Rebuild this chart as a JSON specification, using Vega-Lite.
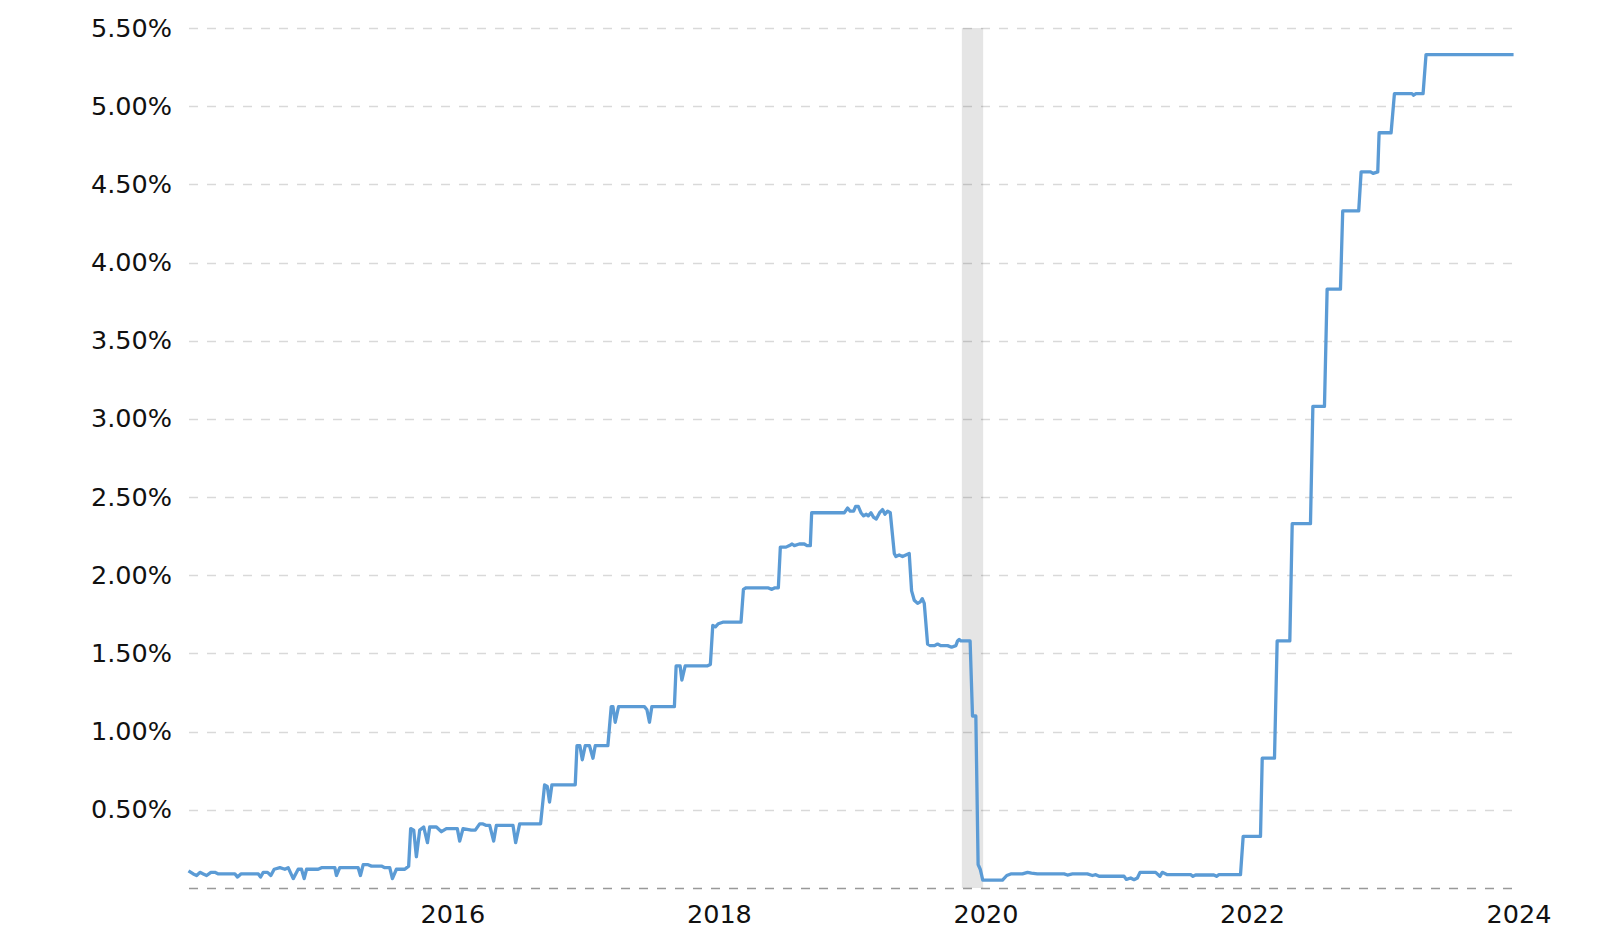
{
  "$schema": "https://vega.github.io/schema/vega-lite/v6.json",
  "width": 1330,
  "height": 860,
  "autosize": {"type": "none"},
  "padding": {"left": 188.5, "top": 28, "right": 81.5, "bottom": 52},
  "background": "white",
  "config": {"view": {"stroke": null}, "font": "DejaVu Sans"},
  "datasets": {
    "recession": [{"year": 2019.823, "year2": 2019.983}],
    "rate": [
      {"year": 2014.020, "rate": 0.11}, {"year": 2014.056, "rate": 0.09}, {"year": 2014.081, "rate": 0.08}, {"year": 2014.106, "rate": 0.10},
      {"year": 2014.131, "rate": 0.09}, {"year": 2014.156, "rate": 0.08}, {"year": 2014.188, "rate": 0.10}, {"year": 2014.218, "rate": 0.10},
      {"year": 2014.244, "rate": 0.09}, {"year": 2014.368, "rate": 0.09}, {"year": 2014.388, "rate": 0.07}, {"year": 2014.413, "rate": 0.09},
      {"year": 2014.544, "rate": 0.09}, {"year": 2014.561, "rate": 0.07}, {"year": 2014.581, "rate": 0.10}, {"year": 2014.613, "rate": 0.10},
      {"year": 2014.638, "rate": 0.08}, {"year": 2014.663, "rate": 0.12}, {"year": 2014.706, "rate": 0.13}, {"year": 2014.743, "rate": 0.12},
      {"year": 2014.768, "rate": 0.13}, {"year": 2014.806, "rate": 0.06}, {"year": 2014.843, "rate": 0.12}, {"year": 2014.868, "rate": 0.12},
      {"year": 2014.888, "rate": 0.06}, {"year": 2014.906, "rate": 0.12}, {"year": 2014.943, "rate": 0.12}, {"year": 2014.993, "rate": 0.12},
      {"year": 2015.018, "rate": 0.13}, {"year": 2015.118, "rate": 0.13}, {"year": 2015.130, "rate": 0.08}, {"year": 2015.155, "rate": 0.13},
      {"year": 2015.293, "rate": 0.13}, {"year": 2015.310, "rate": 0.08}, {"year": 2015.331, "rate": 0.15}, {"year": 2015.363, "rate": 0.15},
      {"year": 2015.393, "rate": 0.14}, {"year": 2015.468, "rate": 0.14}, {"year": 2015.493, "rate": 0.13}, {"year": 2015.530, "rate": 0.13},
      {"year": 2015.550, "rate": 0.06}, {"year": 2015.580, "rate": 0.12}, {"year": 2015.643, "rate": 0.12}, {"year": 2015.672, "rate": 0.14},
      {"year": 2015.687, "rate": 0.38}, {"year": 2015.710, "rate": 0.37}, {"year": 2015.730, "rate": 0.20}, {"year": 2015.755, "rate": 0.37},
      {"year": 2015.785, "rate": 0.39}, {"year": 2015.813, "rate": 0.29}, {"year": 2015.830, "rate": 0.39}, {"year": 2015.880, "rate": 0.39},
      {"year": 2015.918, "rate": 0.36}, {"year": 2015.955, "rate": 0.38}, {"year": 2016.037, "rate": 0.38}, {"year": 2016.055, "rate": 0.30},
      {"year": 2016.080, "rate": 0.38}, {"year": 2016.142, "rate": 0.37}, {"year": 2016.172, "rate": 0.37},
      {"year": 2016.205, "rate": 0.41}, {"year": 2016.230, "rate": 0.41}, {"year": 2016.255, "rate": 0.40}, {"year": 2016.280, "rate": 0.40},
      {"year": 2016.310, "rate": 0.30}, {"year": 2016.330, "rate": 0.40}, {"year": 2016.455, "rate": 0.40}, {"year": 2016.475, "rate": 0.29},
      {"year": 2016.505, "rate": 0.41}, {"year": 2016.662, "rate": 0.41}, {"year": 2016.692, "rate": 0.66}, {"year": 2016.712, "rate": 0.65},
      {"year": 2016.729, "rate": 0.55}, {"year": 2016.747, "rate": 0.66}, {"year": 2016.922, "rate": 0.66}, {"year": 2016.935, "rate": 0.91},
      {"year": 2016.957, "rate": 0.91}, {"year": 2016.975, "rate": 0.82}, {"year": 2016.997, "rate": 0.91}, {"year": 2017.029, "rate": 0.91},
      {"year": 2017.055, "rate": 0.83}, {"year": 2017.072, "rate": 0.91}, {"year": 2017.167, "rate": 0.91}, {"year": 2017.192, "rate": 1.16},
      {"year": 2017.205, "rate": 1.16}, {"year": 2017.222, "rate": 1.06}, {"year": 2017.247, "rate": 1.16}, {"year": 2017.441, "rate": 1.16},
      {"year": 2017.460, "rate": 1.14}, {"year": 2017.479, "rate": 1.06}, {"year": 2017.497, "rate": 1.16}, {"year": 2017.666, "rate": 1.16},
      {"year": 2017.679, "rate": 1.42}, {"year": 2017.709, "rate": 1.42}, {"year": 2017.722, "rate": 1.33}, {"year": 2017.747, "rate": 1.42},
      {"year": 2017.911, "rate": 1.42}, {"year": 2017.936, "rate": 1.43},
      {"year": 2017.954, "rate": 1.68}, {"year": 2017.974, "rate": 1.67}, {"year": 2017.996, "rate": 1.69}, {"year": 2018.029, "rate": 1.70},
      {"year": 2018.166, "rate": 1.70}, {"year": 2018.184, "rate": 1.91}, {"year": 2018.204, "rate": 1.92}, {"year": 2018.341, "rate": 1.92},
      {"year": 2018.367, "rate": 1.92}, {"year": 2018.397, "rate": 1.91}, {"year": 2018.421, "rate": 1.92}, {"year": 2018.446, "rate": 1.92},
      {"year": 2018.461, "rate": 2.18}, {"year": 2018.504, "rate": 2.18}, {"year": 2018.529, "rate": 2.19}, {"year": 2018.549, "rate": 2.20},
      {"year": 2018.566, "rate": 2.19}, {"year": 2018.603, "rate": 2.20}, {"year": 2018.641, "rate": 2.20}, {"year": 2018.661, "rate": 2.19},
      {"year": 2018.686, "rate": 2.19}, {"year": 2018.696, "rate": 2.40}, {"year": 2018.941, "rate": 2.40}, {"year": 2018.966, "rate": 2.43},
      {"year": 2018.985, "rate": 2.41}, {"year": 2019.011, "rate": 2.41}, {"year": 2019.026, "rate": 2.44}, {"year": 2019.046, "rate": 2.44},
      {"year": 2019.066, "rate": 2.40}, {"year": 2019.086, "rate": 2.38}, {"year": 2019.106, "rate": 2.39}, {"year": 2019.121, "rate": 2.38},
      {"year": 2019.141, "rate": 2.40}, {"year": 2019.161, "rate": 2.37}, {"year": 2019.181, "rate": 2.36}, {"year": 2019.206, "rate": 2.40},
      {"year": 2019.228, "rate": 2.42}, {"year": 2019.246, "rate": 2.39}, {"year": 2019.266, "rate": 2.41}, {"year": 2019.286, "rate": 2.40},
      {"year": 2019.316, "rate": 2.14}, {"year": 2019.328, "rate": 2.12}, {"year": 2019.353, "rate": 2.13}, {"year": 2019.378, "rate": 2.12},
      {"year": 2019.403, "rate": 2.13}, {"year": 2019.428, "rate": 2.14}, {"year": 2019.446, "rate": 1.90}, {"year": 2019.466, "rate": 1.84},
      {"year": 2019.491, "rate": 1.82}, {"year": 2019.511, "rate": 1.83}, {"year": 2019.526, "rate": 1.85}, {"year": 2019.541, "rate": 1.82},
      {"year": 2019.566, "rate": 1.56}, {"year": 2019.586, "rate": 1.55}, {"year": 2019.616, "rate": 1.55}, {"year": 2019.641, "rate": 1.56},
      {"year": 2019.666, "rate": 1.55}, {"year": 2019.716, "rate": 1.55}, {"year": 2019.746, "rate": 1.54}, {"year": 2019.778, "rate": 1.55},
      {"year": 2019.791, "rate": 1.58}, {"year": 2019.803, "rate": 1.59}, {"year": 2019.816, "rate": 1.58}, {"year": 2019.885, "rate": 1.58},
      {"year": 2019.903, "rate": 1.10}, {"year": 2019.928, "rate": 1.10}, {"year": 2019.945, "rate": 0.15}, {"year": 2019.961, "rate": 0.12},
      {"year": 2019.980, "rate": 0.05}, {"year": 2020.128, "rate": 0.05}, {"year": 2020.160, "rate": 0.08}, {"year": 2020.190, "rate": 0.09},
      {"year": 2020.278, "rate": 0.09}, {"year": 2020.316, "rate": 0.10}, {"year": 2020.345, "rate": 0.095}, {"year": 2020.390, "rate": 0.09},
      {"year": 2020.590, "rate": 0.09}, {"year": 2020.615, "rate": 0.083}, {"year": 2020.653, "rate": 0.09}, {"year": 2020.765, "rate": 0.09},
      {"year": 2020.803, "rate": 0.08}, {"year": 2020.828, "rate": 0.085}, {"year": 2020.853, "rate": 0.075}, {"year": 2021.040, "rate": 0.075},
      {"year": 2021.058, "rate": 0.055}, {"year": 2021.090, "rate": 0.064}, {"year": 2021.115, "rate": 0.053}, {"year": 2021.140, "rate": 0.064},
      {"year": 2021.160, "rate": 0.10}, {"year": 2021.178, "rate": 0.10}, {"year": 2021.277, "rate": 0.10}, {"year": 2021.309, "rate": 0.075},
      {"year": 2021.327, "rate": 0.10}, {"year": 2021.365, "rate": 0.085}, {"year": 2021.540, "rate": 0.085}, {"year": 2021.557, "rate": 0.075},
      {"year": 2021.577, "rate": 0.083}, {"year": 2021.714, "rate": 0.083}, {"year": 2021.734, "rate": 0.075}, {"year": 2021.752, "rate": 0.085},
      {"year": 2021.914, "rate": 0.085},
      {"year": 2021.934, "rate": 0.33}, {"year": 2022.064, "rate": 0.33}, {"year": 2022.077, "rate": 0.83}, {"year": 2022.169, "rate": 0.83},
      {"year": 2022.189, "rate": 1.58}, {"year": 2022.284, "rate": 1.58}, {"year": 2022.302, "rate": 2.33}, {"year": 2022.439, "rate": 2.33},
      {"year": 2022.457, "rate": 3.08}, {"year": 2022.544, "rate": 3.08}, {"year": 2022.564, "rate": 3.83}, {"year": 2022.664, "rate": 3.83},
      {"year": 2022.681, "rate": 4.33}, {"year": 2022.801, "rate": 4.33}, {"year": 2022.819, "rate": 4.58}, {"year": 2022.890, "rate": 4.58},
      {"year": 2022.909, "rate": 4.57}, {"year": 2022.944, "rate": 4.58}, {"year": 2022.954, "rate": 4.83}, {"year": 2023.044, "rate": 4.83},
      {"year": 2023.069, "rate": 5.08}, {"year": 2023.201, "rate": 5.08}, {"year": 2023.213, "rate": 5.07}, {"year": 2023.230, "rate": 5.08},
      {"year": 2023.284, "rate": 5.08}, {"year": 2023.306, "rate": 5.33}, {"year": 2023.963, "rate": 5.33}
    ]
  },
  "encoding": {
    "x": {
      "field": "year",
      "type": "quantitative",
      "scale": {"domain": [2014.02, 2024.0], "nice": false, "zero": false},
      "axis": {
        "values": [2016, 2018, 2020, 2022, 2024],
        "format": "d",
        "title": null,
        "domain": false,
        "ticks": false,
        "grid": false,
        "labelFontSize": 25.5,
        "labelColor": "#111111",
        "labelPadding": 14,
        "labelOverlap": false,
        "labelFlush": false
      }
    }
  },
  "layer": [
    {
      "data": {"name": "recession"},
      "mark": {"type": "rect", "color": "#000000", "opacity": 0.1},
      "encoding": {"x2": {"field": "year2"}}
    },
    {
      "data": {"name": "rate"},
      "mark": {"type": "line", "color": "#5b9bd5", "strokeWidth": 3.3, "strokeJoin": "round"},
      "encoding": {
        "y": {
          "field": "rate",
          "type": "quantitative",
          "scale": {"domain": [0, 5.5], "nice": false},
          "axis": {
            "values": [0, 0.5, 1, 1.5, 2, 2.5, 3, 3.5, 4, 4.5, 5, 5.5],
            "title": null,
            "domain": false,
            "ticks": false,
            "labelExpr": "datum.value === 0 ? '' : format(datum.value, '.2f') + '%'",
            "labelFontSize": 25.5,
            "labelColor": "#111111",
            "labelPadding": 17,
            "gridDash": [9, 9],
            "gridWidth": 1.5,
            "gridColor": {"condition": {"test": "datum.value === 0", "value": "#999999"}, "value": "#d9d9d9"}
          }
        }
      }
    }
  ]
}
